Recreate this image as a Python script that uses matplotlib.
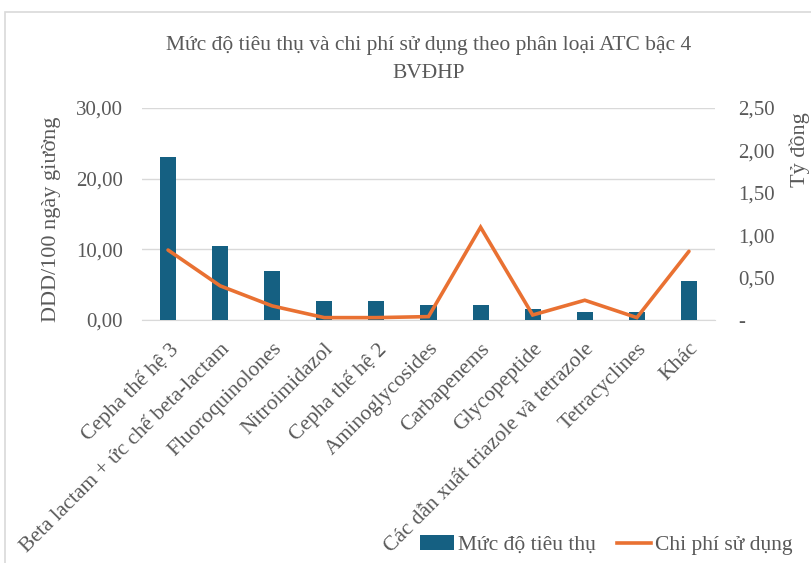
import matplotlib
matplotlib.use("Agg")
import matplotlib.pyplot as plt
from matplotlib.patches import Rectangle, Patch
from matplotlib.lines import Line2D
from matplotlib.ticker import FuncFormatter

categories = ["Cepha thế hệ 3", "Beta lactam + ức chế beta-lactam", "Fluoroquinolones",
              "Nitroimidazol", "Cepha thế hệ 2", "Aminoglycosides", "Carbapenems",
              "Glycopeptide", "Các dẫn xuất triazole và tetrazole", "Tetracyclines", "Khác"]
consumption = [23.13, 10.47, 6.87, 2.70, 2.70, 2.09, 2.09, 1.52, 1.14, 1.14, 5.55]
cost = [0.825, 0.403, 0.166, 0.028, 0.028, 0.040, 1.094, 0.059, 0.233, 0.028, 0.810]

left_ticks = [0, 10, 20, 30]
right_ticks = [0, 0.5, 1.0, 1.5, 2.0, 2.5]

plt.rcParams['font.family'] = ['Liberation Serif', 'DejaVu Serif']
TXT = '#595959'
BAR = '#156082'
LINE = '#E97132'

fig = plt.figure(figsize=(8.11, 5.63), dpi=100)
ax = fig.add_axes([142/811, 1-320/563, (715-142)/811, (320-108)/563])
ax2 = ax.twinx()

x = list(range(len(categories)))
ax.bar(x, consumption, width=0.31, color=BAR, zorder=3)
ax2.plot(x, cost, color=LINE, lw=2.6, zorder=4, solid_capstyle='round', solid_joinstyle='miter')

ax.set_xlim(-0.5, len(categories)-0.5)
ax.set_ylim(0, 30)
ax2.set_ylim(0, 2.5)
ax.set_yticks(left_ticks)
ax2.set_yticks(right_ticks)
ax.yaxis.set_major_formatter(FuncFormatter(lambda v, p: f"{v:.2f}".replace('.', ',')))
ax2.yaxis.set_major_formatter(FuncFormatter(lambda v, p: '-' if v == 0 else f"{v:.2f}".replace('.', ',')))
ax.grid(axis='y', color='#D9D9D9', lw=1.0, zorder=0)
ax.set_axisbelow(True)
for a in (ax, ax2):
    for s in a.spines.values():
        s.set_visible(False)
ax.spines['bottom'].set_visible(True)
ax.spines['bottom'].set_color('#D9D9D9')
ax.tick_params(axis='y', length=0, pad=14, labelsize=15, labelcolor=TXT)
ax2.tick_params(axis='y', length=0, pad=17, labelsize=15, labelcolor=TXT)
ax.set_xticks(x)
ax.set_xticklabels(categories, rotation=45, ha='right', rotation_mode='anchor',
                   fontsize=15.5, color=TXT)
ax.tick_params(axis='x', length=0, pad=14)

fig.suptitle("Mức độ tiêu thụ và chi phí sử dụng theo phân loại ATC bậc 4\nBVĐHP",
             x=(142+715)/2/811, y=1-36/563, va='top', fontsize=15.5, color=TXT, linespacing=1.65)
fig.text(52/811, 1-219/563, "DDD/100 ngày giường", rotation=90, ha='center', va='center',
         fontsize=16, color=TXT)
fig.text(800/811, 1-112/563, "Tỷ đồng", rotation=90, ha='center', va='top',
         fontsize=16, color=TXT)

handles = [Patch(facecolor=BAR), Line2D([0], [0], color=LINE, lw=2.6)]
fig.legend(handles, ["Mức độ tiêu thụ", "Chi phí sử dụng"], loc='center',
           bbox_to_anchor=(606/811, 1-545/563), ncol=2, frameon=False, fontsize=15.5,
           labelcolor=TXT, handlelength=1.6, handletextpad=0.15, columnspacing=1.0)

fig.patches.append(Rectangle((5/811, -0.1), 1.2, 1.1-12/563, transform=fig.transFigure,
                             fill=False, edgecolor='#D9D9D9', lw=1.2))

fig.savefig("out.png", dpi=100, facecolor='white')
